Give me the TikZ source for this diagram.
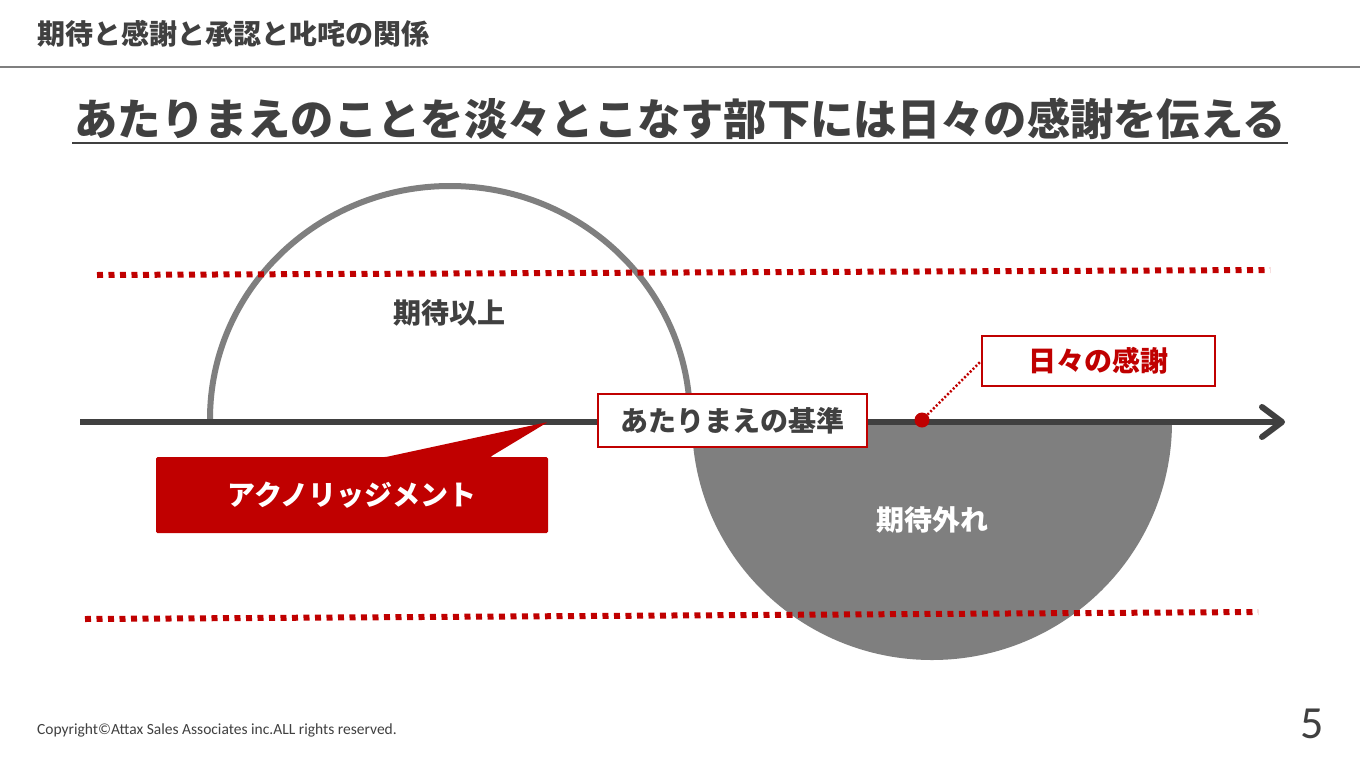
\documentclass[tikz,border=0pt]{standalone}
\usepackage{fontspec}
\newfontfamily\jp{Noto Sans CJK JP}
\newfontfamily\calfont{Carlito}
\usetikzlibrary{arrows.meta}
\definecolor{jred}{HTML}{C00000}
\definecolor{dgray}{HTML}{404040}
\definecolor{mgray}{HTML}{7F7F7F}
\tikzset{
  jpb/.style={font=\jp\bfseries\fontsize{#1}{#1}\selectfont, inner sep=0pt},
  lbl/.style={jpb=28, text=dgray},
  wlbl/.style={jpb=28, text=white},
  redbox/.style={draw=jred, line width=2pt, fill=white, jpb=28, text=dgray},
  reddots/.style={jred, line width=6pt, dash pattern=on 6pt off 5.5pt},
  finedots/.style={jred, line width=2.5pt, dash pattern=on 2pt off 2pt},
}
\begin{document}
\begin{tikzpicture}[x=1pt,y=-1pt]
\useasboundingbox[fill=white] (0,0) rectangle (1360,766);
% header
\node[lbl, anchor=west] (hdr) at (37,34) {期待と感謝と承認と叱咤の関係};
\coordinate (hl1) at (0,67);
\coordinate (hl2) at (1360,67);
\draw[mgray, line width=2pt] (hl1) -- (hl2);
% title
\node[jpb=43.3, text=dgray] (title) at (680,119) {あたりまえのことを淡々とこなす部下には日々の感謝を伝える};
\coordinate (ul) at (0,143);
\draw[dgray, line width=2.5pt] ([xshift=-2pt]title.west |- ul) -- ([xshift=2pt]title.east |- ul);
% lower half ellipse (filled)
\fill[mgray] (692,422) arc[start angle=180, end angle=0, x radius=240, y radius=238] -- cycle;
% upper arc
\draw[mgray, line width=6pt] (210,419) arc[start angle=180, end angle=360, x radius=240, y radius=233];
% axis
\coordinate (axL) at (80,422);
\coordinate (axR) at (1285,422);
\draw[dgray, line width=6pt, -{Straight Barb[length=20pt, width=30pt, round]}] (axL) -- (axR);
% dotted red lines
\coordinate (t1) at (97,275);
\coordinate (t2) at (1270,270);
\coordinate (b1) at (85,619);
\coordinate (b2) at (1258,612);
\draw[reddots] (t1) -- (t2);
\draw[reddots] (b1) -- (b2);
% callout
\fill[jred, rounded corners=1.5pt] (156,457) -- (386,457) -- (548,422) -- (490,457) -- (548,457) -- (548,533) -- (156,533) -- cycle;
\node[wlbl] (ack) at (352,495) {アクノリッジメント};
% labels
\node[lbl] (above) at (449,313) {期待以上};
\node[wlbl] (miss) at (932,520) {期待外れ};
\node[redbox, minimum width=269pt, minimum height=53pt] (base) at (732.5,420.5) {あたりまえの基準};
\node[redbox, text=jred, minimum width=233pt, minimum height=50pt] (thanks) at (1098.5,361) {日々の感謝};
\node[circle, fill=jred, minimum size=15pt, inner sep=0pt] (dot) at (922,420) {};
\draw[finedots] (dot) -- (thanks.west);
% footer
\node[anchor=west, font=\calfont\fontsize{15.5}{17}\selectfont, text=dgray, inner sep=0pt] (copy) at (37,730) {Copyright©Attax Sales Associates inc.ALL rights reserved.};
\node[font=\calfont\fontsize{46}{46}\selectfont, text=dgray, inner sep=0pt] (page) at (1312,724) {5};
\end{tikzpicture}
\end{document}
